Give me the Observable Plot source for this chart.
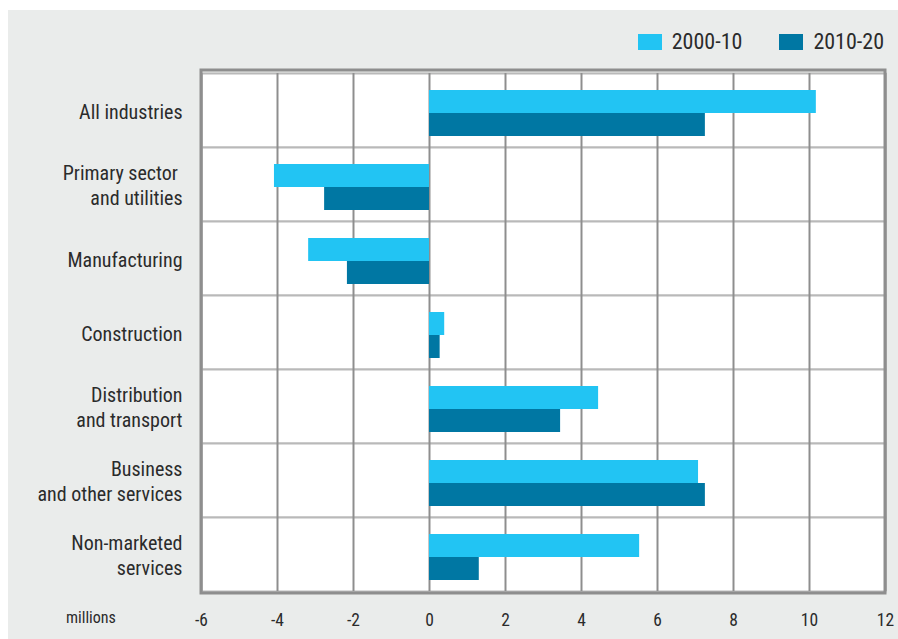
<!DOCTYPE html>
<html>
<head>
<meta charset="utf-8">
<script src="https://cdn.jsdelivr.net/npm/d3@7"></script>
<script src="https://cdn.jsdelivr.net/npm/@observablehq/plot@0.6"></script>
<style>
  html, body { margin: 0; padding: 0; background: #ffffff; }
  body { width: 898px; height: 639px; position: relative; overflow: hidden;
         font-family: "Roboto Condensed", "Open Sans", sans-serif; color: #2b2b2b; }
  #panel { position: absolute; left: 8px; top: 10px; width: 890px; height: 629px; background: #eaeceb; }
  #legend { height: 58px; display: flex; justify-content: flex-end; align-items: flex-start;
            padding-right: 14px; box-sizing: border-box; padding-top: 20px; font-size: 22px; line-height: 24px; }
  .item { display: flex; align-items: center; margin-left: 37px; }
  .sw { width: 24px; height: 16px; margin-right: 10px; }
  #unit { position: absolute; left: 58px; top: 598px; font-size: 16px; }
  #chart svg { display: block; }
</style>
</head>
<body>
<div id="panel">
  <div id="legend"></div>
  <div id="chart"></div>
  <div id="unit"></div>
</div>
<script>
const categories = ["All industries", "Primary sector \nand utilities", "Manufacturing", "Construction",
  "Distribution\nand transport", "Business\nand other services", "Non-marketed\nservices"];
const series = ["2000-10", "2010-20"];
const values2000 = [10.18, -4.08, -3.18, 0.40, 4.45, 7.08, 5.53];
const values2010 = [7.26, -2.76, -2.16, 0.28, 3.45, 7.26, 1.31];
const xTicks = [-6, -4, -2, 0, 2, 4, 6, 8, 10, 12];
const colors = ["#22c4f3", "#0077a3"];
const unitLabel = "millions";

const data = categories.flatMap((c, i) => [
  {category: c, series: series[0], value: values2000[i]},
  {category: c, series: series[1], value: values2010[i]}
]);

// legend
const legend = d3.select("#legend");
series.forEach((s, i) => {
  const it = legend.append("div").attr("class", "item");
  it.append("div").attr("class", "sw").style("background", colors[i]);
  it.append("span").text(s);
});
d3.select("#unit").text(unitLabel);

const chart = Plot.plot({
  width: 890,
  height: 571,
  marginTop: 2,
  marginLeft: 193,
  marginRight: 13,
  marginBottom: 46,
  style: {background: "transparent", fontFamily: "'Roboto Condensed', 'Open Sans', sans-serif", color: "#2b2b2b", overflow: "visible"},
  x: {domain: [-6, 12], ticks: xTicks},
  y: {domain: series, paddingInner: 0, paddingOuter: 0.56, align: 0.6, axis: null},
  fy: {domain: categories, padding: 0},
  color: {domain: series, range: colors},
  marks: [
    Plot.frame({fill: "#ffffff", stroke: "#b9b9b9", strokeWidth: 2}),
    Plot.gridX(xTicks, {stroke: "#8e8e8e", strokeOpacity: 1, strokeWidth: 2}),
    Plot.barX(data, {x: "value", y: "series", fy: "category", fill: "series"}),
    Plot.axisX(xTicks, {tickSize: 0, tickPadding: 22, fontSize: 17.5, label: null, tickFormat: d => String(d)}),
    Plot.axisFy({anchor: "left", tickSize: 0, tickPadding: 19, fontSize: 20, label: null, lineHeight: 1.25})
  ]
});
document.getElementById("chart").appendChild(chart);

// outer border from the chart's own scales
const xs = chart.scale("x");
const fys = chart.scale("fy");
const x0 = xs.apply(-6), x1 = xs.apply(12);
const y0 = fys.range[0], y1 = fys.range[1];
d3.select(chart).append("rect")
  .attr("x", x0).attr("y", y0).attr("width", x1 - x0).attr("height", y1 - y0)
  .attr("fill", "none").attr("stroke", "#8e8e8e").attr("stroke-width", 3);
</script>
</body>
</html>
